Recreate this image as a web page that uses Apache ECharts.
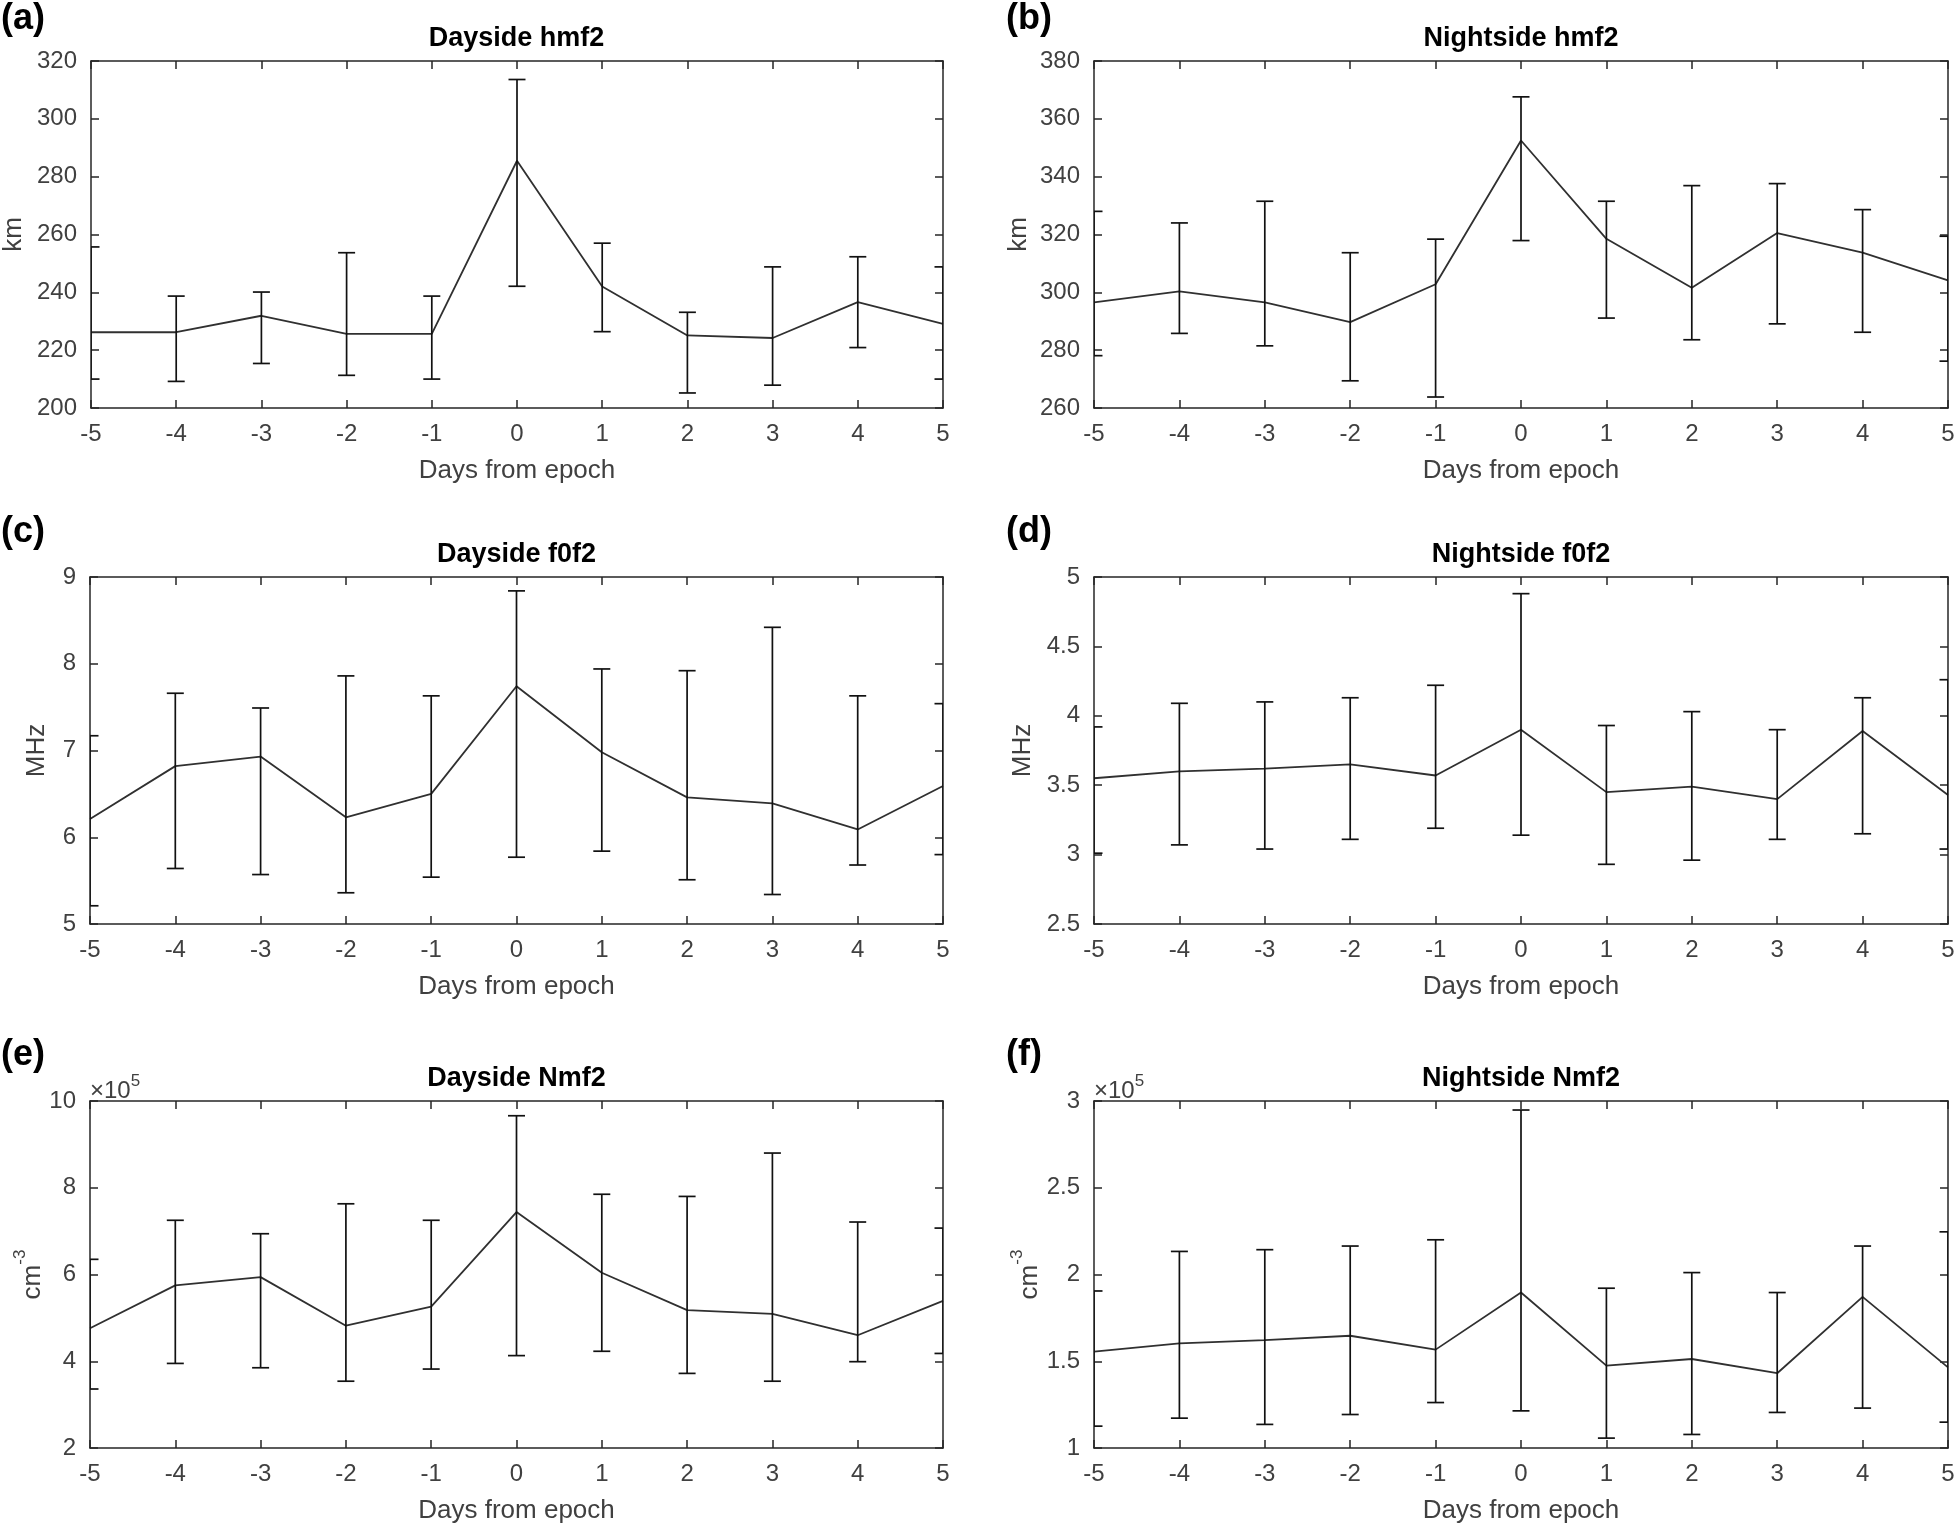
<!DOCTYPE html>
<html>
<head>
<meta charset="utf-8">
<script src="https://cdn.jsdelivr.net/npm/echarts@6/dist/echarts.min.js"></script>
<style>
html,body{margin:0;padding:0;background:#fff;}
#chart{width:1960px;height:1529px;}
</style>
</head>
<body>
<div id="chart"></div>
<script>
// ---------- data ----------
const days = [-5, -4, -3, -2, -1, 0, 1, 2, 3, 4, 5];

const dayHmf2Mean  = [226.2, 226.2, 231.9, 225.6, 225.6, 285.5, 242.0, 225.1, 224.2, 236.6, 229.1];
const dayHmf2Upper = [255.7, 238.7, 240.1, 253.7, 238.7, 313.6, 257.0, 233.1, 248.8, 252.3, 248.8];
const dayHmf2Lower = [210.0, 209.2, 215.4, 211.3, 210.0, 242.1, 226.4, 205.2, 207.9, 220.9, 210.0];

const nightHmf2Mean  = [296.5, 300.3, 296.5, 289.7, 302.8, 352.5, 318.5, 301.6, 320.5, 313.7, 304.1];
const nightHmf2Upper = [328.0, 324.0, 331.5, 313.7, 318.4, 367.6, 331.5, 336.9, 337.6, 328.6, 319.4];
const nightHmf2Lower = [278.1, 285.8, 281.5, 269.4, 263.8, 317.9, 291.1, 283.6, 289.1, 286.2, 276.2];

const dayF0f2Mean  = [6.21, 6.82, 6.93, 6.23, 6.50, 7.74, 6.98, 6.46, 6.39, 6.09, 6.59];
const dayF0f2Upper = [7.17, 7.66, 7.49, 7.86, 7.63, 8.84, 7.94, 7.92, 8.42, 7.63, 7.54];
const dayF0f2Lower = [5.21, 5.64, 5.57, 5.36, 5.54, 5.77, 5.84, 5.51, 5.34, 5.68, 5.80];

const nightF0f2Mean  = [3.55, 3.60, 3.62, 3.65, 3.57, 3.90, 3.45, 3.49, 3.40, 3.89, 3.43];
const nightF0f2Upper = [3.92, 4.09, 4.10, 4.13, 4.22, 4.88, 3.93, 4.03, 3.90, 4.13, 4.26];
const nightF0f2Lower = [3.01, 3.07, 3.04, 3.11, 3.19, 3.14, 2.93, 2.96, 3.11, 3.15, 3.04];

// Nmf2 values in units of 10^5 cm^-3
const dayNmf2Mean  = [4.76, 5.75, 5.94, 4.82, 5.26, 7.44, 6.04, 5.18, 5.09, 4.60, 5.39];
const dayNmf2Upper = [6.35, 7.25, 6.94, 7.63, 7.25, 9.66, 7.85, 7.80, 8.80, 7.21, 7.07];
const dayNmf2Lower = [3.36, 3.95, 3.85, 3.54, 3.82, 4.13, 4.23, 3.72, 3.54, 3.99, 4.18];

const nightNmf2Mean  = [1.555, 1.603, 1.622, 1.647, 1.567, 1.896, 1.475, 1.513, 1.431, 1.871, 1.465];
const nightNmf2Upper = [1.905, 2.133, 2.143, 2.164, 2.200, 2.948, 1.921, 2.011, 1.896, 2.164, 2.246];
const nightNmf2Lower = [1.126, 1.172, 1.136, 1.193, 1.262, 1.214, 1.057, 1.078, 1.205, 1.230, 1.149];

const panelLabels = ['(a)', '(b)', '(c)', '(d)', '(e)', '(f)'];
const panelTitles = ['Dayside hmf2', 'Nightside hmf2', 'Dayside f0f2', 'Nightside f0f2', 'Dayside Nmf2', 'Nightside Nmf2'];
const yNames = ['km', 'km', 'MHz', 'MHz', '{b|cm}{s|-3}', '{b|cm}{s|-3}'];
const yMin = [200, 260, 5, 2.5, 2, 1];
const yMax = [320, 380, 9, 5, 10, 3];
const yInterval = [20, 20, 1, 0.5, 2, 0.5];
const xName = 'Days from epoch';
const scaleLabel = ['', '', '', '', '5', '5'];

const panels = [
  [dayHmf2Mean, dayHmf2Lower, dayHmf2Upper],
  [nightHmf2Mean, nightHmf2Lower, nightHmf2Upper],
  [dayF0f2Mean, dayF0f2Lower, dayF0f2Upper],
  [nightF0f2Mean, nightF0f2Lower, nightF0f2Upper],
  [dayNmf2Mean, dayNmf2Lower, dayNmf2Upper],
  [nightNmf2Mean, nightNmf2Lower, nightNmf2Upper]
];

// ---------- layout ----------
const FONT = 'Liberation Sans, Arial, Helvetica, sans-serif';
const colLeft = [90, 1094];
const colWidth = [853, 854];
const rowTop = [61, 577, 1101];
const gridH = 347;
const yNameGap = [64, 62, 40, 58, 32, 50];
const axisColor = '#262626';
const textColor = '#404040';

const grids = [], xAxes = [], yAxes = [], series = [], graphics = [];

for (let i = 0; i < 6; i++) {
  const col = i % 2, row = Math.floor(i / 2);
  const g = { left: colLeft[col], top: rowTop[row], width: colWidth[col], height: gridH, containLabel: false };
  grids.push(g);

  const axLine = { show: true, onZero: false, lineStyle: { color: axisColor, width: 1.5 } };
  const axTick = { show: true, inside: true, length: 8, lineStyle: { color: axisColor, width: 1.5 } };

  xAxes.push({
    type: 'value', gridIndex: i, min: -5, max: 5, interval: 1, position: 'bottom',
    axisLine: axLine, axisTick: axTick, splitLine: { show: false },
    axisLabel: { color: textColor, fontSize: 24, fontFamily: FONT, margin: 14 },
    name: xName, nameLocation: 'middle', nameGap: 50,
    nameTextStyle: { color: textColor, fontSize: 26, fontFamily: FONT }
  });
  xAxes.push({
    type: 'value', gridIndex: i, min: -5, max: 5, interval: 1, position: 'top',
    axisLine: axLine, axisTick: axTick, splitLine: { show: false }, axisLabel: { show: false }
  });

  yAxes.push({
    type: 'value', gridIndex: i, min: yMin[i], max: yMax[i], interval: yInterval[i], position: 'left',
    axisLine: axLine, axisTick: axTick, splitLine: { show: false },
    axisLabel: { color: textColor, fontSize: 24, fontFamily: FONT, margin: 14 },
    name: yNames[i], nameLocation: 'middle', nameGap: yNameGap[i], nameRotate: 90,
    nameTextStyle: {
      color: textColor, fontSize: 26, fontFamily: FONT,
      rich: {
        b: { fontSize: 26, fontFamily: FONT, color: textColor, lineHeight: 34, verticalAlign: 'bottom' },
        s: { fontSize: 17, fontFamily: FONT, color: textColor, lineHeight: 34, verticalAlign: 'top' }
      }
    }
  });
  yAxes.push({
    type: 'value', gridIndex: i, min: yMin[i], max: yMax[i], interval: yInterval[i], position: 'right',
    axisLine: axLine, axisTick: axTick, splitLine: { show: false }, axisLabel: { show: false }
  });

  const [mean, lower, upper] = panels[i];
  series.push({
    type: 'line', xAxisIndex: 2 * i, yAxisIndex: 2 * i,
    data: days.map((d, k) => [d, mean[k]]),
    symbol: 'none', silent: true, z: 3,
    lineStyle: { color: '#303030', width: 1.8 }
  });
  series.push({
    type: 'custom', xAxisIndex: 2 * i, yAxisIndex: 2 * i, clip: true, silent: true, z: 4,
    data: days.map((d, k) => [d, lower[k], upper[k]]),
    encode: { x: 0, y: [1, 2] },
    renderItem: function (params, api) {
      const x = api.value(0);
      const lo = api.coord([x, api.value(1)]);
      const hi = api.coord([x, api.value(2)]);
      const hw = 8.5;
      const st = { stroke: '#111111', lineWidth: 1.7 };
      const cs = params.coordSys;
      return {
        type: 'group',
        clipPath: { type: 'rect', shape: { x: cs.x, y: cs.y, width: cs.width, height: cs.height } },
        children: [
          { type: 'line', shape: { x1: hi[0], y1: hi[1], x2: lo[0], y2: lo[1] }, style: st },
          { type: 'line', shape: { x1: hi[0] - hw, y1: hi[1], x2: hi[0] + hw, y2: hi[1] }, style: st },
          { type: 'line', shape: { x1: lo[0] - hw, y1: lo[1], x2: lo[0] + hw, y2: lo[1] }, style: st }
        ]
      };
    }
  });

  // title above each panel
  graphics.push({
    type: 'text', x: g.left + g.width / 2, y: g.top - 22,
    style: { text: panelTitles[i], font: 'bold 27px ' + FONT, fill: '#000', textAlign: 'center', textVerticalAlign: 'middle' }
  });
  // panel label
  graphics.push({
    type: 'text', x: col === 0 ? 1 : 1006, y: [19, 532, 1055][row],
    style: { text: panelLabels[i], font: 'bold 36px ' + FONT, fill: '#000', textAlign: 'left', textVerticalAlign: 'middle' }
  });
  // exponent label
  if (scaleLabel[i]) {
    graphics.push({
      type: 'text', x: g.left, y: g.top + 2,
      style: {
        text: '{a|×10}{e|' + scaleLabel[i] + '}',
        textAlign: 'left', textVerticalAlign: 'bottom',
        rich: {
          a: { fontSize: 24, fontFamily: FONT, fill: textColor, color: textColor, lineHeight: 30, verticalAlign: 'bottom' },
          e: { fontSize: 17, fontFamily: FONT, fill: textColor, color: textColor, lineHeight: 30, verticalAlign: 'top' }
        }
      }
    });
  }
}

const chart = echarts.init(document.getElementById('chart'), null, { renderer: 'canvas' });
chart.setOption({
  animation: false,
  backgroundColor: '#ffffff',
  grid: grids,
  xAxis: xAxes,
  yAxis: yAxes,
  series: series,
  graphic: graphics
});
</script>
</body>
</html>
